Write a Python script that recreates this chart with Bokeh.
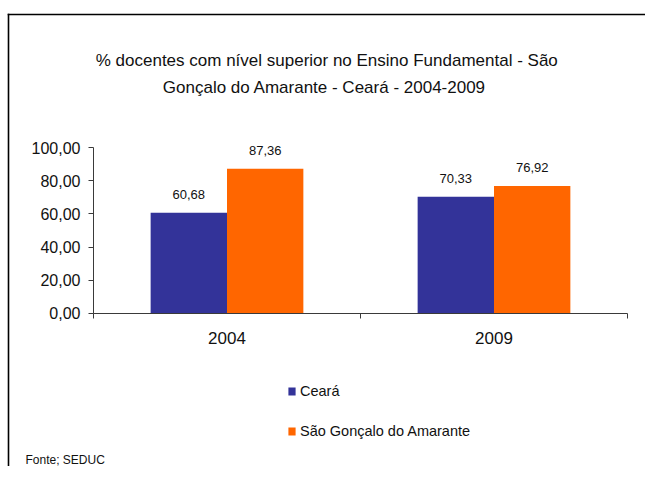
import numpy as np
from bokeh.plotting import figure
from bokeh.models import (FixedTicker, Label, Legend, LegendItem, Range1d,
                          BoxAnnotation)
from bokeh.core.properties import value
from bokeh.embed import file_html
from bokeh.resources import INLINE

# ---- data ----
years = ["2004", "2009"]
ceara = [60.68, 70.33]
sao_goncalo = [87.36, 76.92]
series_names = ["Ceará", "São Gonçalo do Amarante"]
y_ticks = [0, 20, 40, 60, 80, 100]
title_lines = ["% docentes com nível  superior no Ensino Fundamental  - São",
               "Gonçalo do Amarante   -  Ceará - 2004-2009"]
source_note = "Fonte; SEDUC"

colors = ["#333399", "#FF6600"]
FONT = "Liberation Sans"
TXT = "#111111"
AXIS = "#3a3a3a"

# ---- layout (pixels on the canvas) ----
W, H = 645, 466
PX_X0, PX_X1 = 93, 627        # x-axis extent (category 0 .. n)
PX_Y0, PX_Y100 = 312.7, 147.3  # y=0 and y=100
n = len(years)
sx = (PX_X1 - PX_X0) / n
sy = (PX_Y0 - PX_Y100) / 100.0

x_range = Range1d(-PX_X0 / sx, (W - PX_X0) / sx)
y_range = Range1d(-(H - PX_Y0) / sy, 100 + PX_Y100 / sy)

p = figure(width=W, height=H, output_backend="svg", toolbar_location=None,
           x_range=x_range, y_range=y_range, title=None,
           min_border_left=0, min_border_right=0, min_border_top=0,
           min_border_bottom=0)
p.outline_line_color = None
p.grid.grid_line_color = None
p.background_fill_color = "white"
p.border_fill_color = "white"

xc = np.arange(n) + 0.5
bw = 0.286
x1 = xc - bw / 2
x2 = xc + bw / 2

r1 = p.vbar(x=x1, top=ceara, width=bw, fill_color=colors[0], line_color=None)
r2 = p.vbar(x=x2, top=sao_goncalo, width=bw, fill_color=colors[1], line_color=None)

fmt = lambda v: f"{v:.2f}".replace(".", ",")
for xs, vals in ((x1, ceara), (x2, sao_goncalo)):
    p.text(x=xs, y=vals, text=[fmt(v) for v in vals], text_align="center",
           text_baseline="middle", y_offset=-18, text_font=value(FONT),
           text_font_size="13px", text_color=TXT)

# y axis
ya = p.yaxis[0]
ya.fixed_location = 0
ya.bounds = (0, 100)
ya.ticker = FixedTicker(ticks=y_ticks)
ya.major_label_overrides = {t: fmt(t) for t in y_ticks}
ya.major_tick_out = 5
ya.major_tick_in = 0
ya.minor_tick_line_color = None
ya.axis_line_color = AXIS
ya.major_tick_line_color = AXIS
ya.major_label_text_font = FONT
ya.major_label_text_font_size = "16px"
ya.major_label_text_color = TXT
ya.major_label_standoff = 8

# x axis
xa = p.xaxis[0]
xa.fixed_location = 0
xa.bounds = (0, n)
xa.ticker = FixedTicker(ticks=list(xc), minor_ticks=list(range(n + 1)))
xa.major_label_overrides = {float(c): y for c, y in zip(xc, years)}
xa.major_tick_out = 0
xa.major_tick_in = 0
xa.minor_tick_out = 5
xa.minor_tick_in = 0
xa.axis_line_color = AXIS
xa.minor_tick_line_color = AXIS
xa.major_label_text_font = FONT
xa.major_label_text_font_size = "17px"
xa.major_label_text_color = TXT
xa.major_label_standoff = 14

# legend (location = bottom-left corner, measured from the bottom-left)
legend = Legend(items=[LegendItem(label=series_names[0], renderers=[r1]),
                       LegendItem(label=series_names[1], renderers=[r2])],
                location=(287, 42 - (482 - H)), orientation="vertical",
                glyph_width=9, glyph_height=10, label_height=18, spacing=22,
                label_standoff=4, padding=0, margin=0,
                border_line_color=None, background_fill_alpha=0,
                label_text_font=FONT, label_text_font_size="14.5px",
                label_text_color=TXT)
p.add_layout(legend, "center")

# title lines
for t, yc in zip(title_lines, (60, 87)):
    p.add_layout(Label(x=331, y=H - yc, x_units="screen", y_units="screen",
                       text=t, text_align="center", text_baseline="middle",
                       text_font=FONT, text_font_size="17px", text_color=TXT))

p.add_layout(Label(x=25, y=H - 459, x_units="screen", y_units="screen",
                   text=source_note, text_align="left", text_baseline="middle",
                   text_font=FONT, text_font_size="12px", text_color=TXT))

# outer frame: left and top edges, drawn as thin filled boxes inside the canvas
border_kw = dict(left_units="screen", right_units="screen", top_units="screen",
                 bottom_units="screen", fill_color="black", fill_alpha=1,
                 line_color=None)
p.add_layout(BoxAnnotation(left=7.2, right=8.8, top=H - 13.2, bottom=0, **border_kw))
p.add_layout(BoxAnnotation(left=7.2, right=W, top=H - 13.2, bottom=H - 14.8, **border_kw))

open("out.html", "w").write(file_html(p, INLINE))
